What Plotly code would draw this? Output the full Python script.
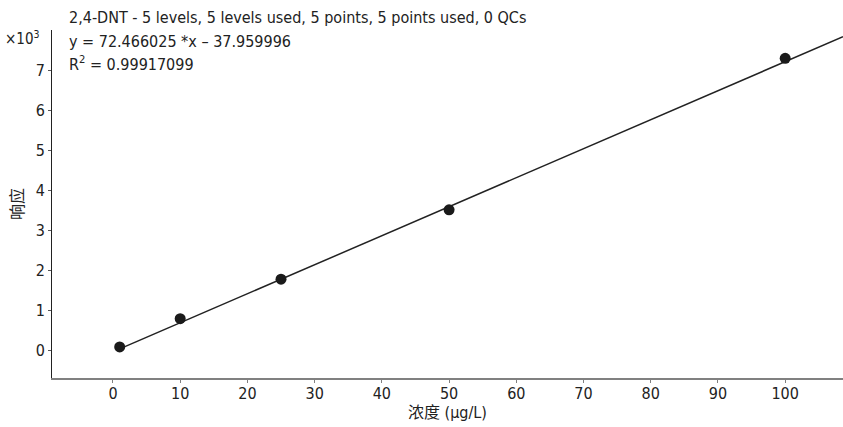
import plotly.graph_objects as go

# Data
concentration = [1, 10, 25, 50, 100]          # µg/L
response = [83, 790, 1775, 3508, 7292]         # response
slope = 72.466025
intercept = -37.959996
fit_x_end = 108.6

x_tick_vals = [0, 10, 20, 30, 40, 50, 60, 70, 80, 90, 100]
y_tick_vals = [0, 1000, 2000, 3000, 4000, 5000, 6000, 7000]
y_tick_text = ["0", "1", "2", "3", "4", "5", "6", "7"]

title_line1 = "2,4-DNT - 5 levels, 5 levels used, 5 points, 5 points used, 0 QCs"
title_line2 = "y = 72.466025 *x \u2013 37.959996"
title_line3 = "R<sup>2</sup> = 0.99917099"

FONT = "DejaVu Sans Condensed, Liberation Sans Narrow, sans-serif"
CJK = "DejaVu Sans Condensed, Noto Sans CJK SC, sans-serif"
INK = "#222222"

# Plot area wanted at page pixels x 52..843, y 30..378.
W, H = 843, 427
PX_L, PX_R, PX_T, PX_B = 52, 843, 30, 378

fit_xs = [concentration[0], fit_x_end]
fit_ys = [slope * v + intercept for v in fit_xs]

fig = go.Figure()
fig.add_trace(go.Scatter(x=fit_xs, y=fit_ys, mode="lines",
                         line=dict(color=INK, width=1.5),
                         hoverinfo="skip", showlegend=False))
fig.add_trace(go.Scatter(x=concentration, y=response, mode="markers",
                         marker=dict(color="#1a1a1a", size=11),
                         showlegend=False))

fig.update_layout(
    width=W, height=H,
    margin=dict(l=PX_L, r=W - PX_R, t=PX_T, b=H - PX_B),
    paper_bgcolor="white", plot_bgcolor="white",
    font=dict(family=FONT, size=16, color=INK),
    xaxis=dict(range=[-9.07, 108.6], tickvals=x_tick_vals,
               showline=True, linecolor="#808080", linewidth=2,
               ticks="outside", ticklen=3, tickcolor="#808080",
               ticklabelstandoff=-3,
               showgrid=False, zeroline=False,
               tickfont=dict(family=FONT, size=16, color=INK),
               title=dict(text="浓度 (µg/L)", standoff=0,
                          font=dict(family=CJK, size=16, color=INK))),
    yaxis=dict(range=[-693, 8000], tickvals=y_tick_vals, ticktext=y_tick_text,
               showline=True, linecolor=INK, linewidth=1,
               ticks="outside", ticklen=3, tickcolor="#555555",
               showgrid=False, zeroline=False,
               tickfont=dict(family=FONT, size=16, color=INK),
               title=dict(text="响应", standoff=8,
                          font=dict(family=CJK, size=16, color=INK))),
)

def px_to_paper(xp, yp):
    return (xp - PX_L) / (PX_R - PX_L), (PX_B - yp) / (PX_B - PX_T)

ann_font = dict(family=FONT, size=16, color=INK)
for txt, ypix in [(title_line1, 18), (title_line2, 41), (title_line3, 63)]:
    ax, ay = px_to_paper(67, ypix)
    fig.add_annotation(xref="paper", yref="paper", x=ax, y=ay,
                       xanchor="left", yanchor="middle", showarrow=False,
                       text=txt, font=ann_font)

ax, ay = px_to_paper(42, 38)
fig.add_annotation(xref="paper", yref="paper", x=ax, y=ay,
                   xanchor="right", yanchor="middle", showarrow=False,
                   text="×10<sup>3</sup>", font=dict(family=FONT, size=15, color=INK))

fig.write_html("out.html",
               config={"displayModeBar": False},
               post_script="document.body.style.margin='0';"
                           "document.body.style.overflow='hidden';")
